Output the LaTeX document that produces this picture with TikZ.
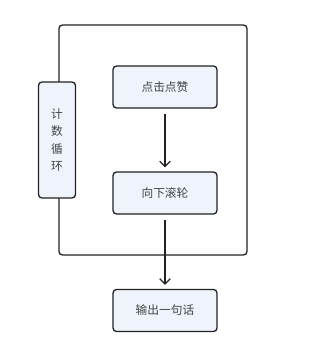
\documentclass[tikz,border=0pt]{standalone}
\usepackage{fontspec}
\setmainfont{Noto Sans CJK SC}
\usepackage{tikz}
\usetikzlibrary{arrows.meta, positioning}

\definecolor{boxfill}{HTML}{EEF3FC}
\definecolor{boxline}{HTML}{222222}
\definecolor{textgray}{HTML}{444444}

\tikzset{
	stepbox/.style={draw=boxline, fill=boxfill, rounded corners=3pt, line width=1.1pt,
		minimum width=104*0.3mm, minimum height=42*0.3mm, inner sep=0pt,
		text=textgray, font=\fontsize{10pt}{12pt}\selectfont},
	loopbox/.style={stepbox, minimum width=37*0.3mm, minimum height=116*0.3mm, align=center,
		font=\fontsize{10pt}{15pt}\selectfont},
	flow/.style={draw=boxline, line width=1.1pt, -{Straight Barb[length=4.5pt,width=9pt]}},
	loopline/.style={draw=boxline, line width=1.1pt, rounded corners=3pt}
}

\begin{document}
\begin{tikzpicture}[x=0.03cm, y=-0.03cm]
	\useasboundingbox (0,0) rectangle (319,350);
	
	% Schleife
	\coordinate (lt) at (59,82);
	\coordinate (lb) at (59,198);
	\draw[loopline] (lt) -- (59,25) -- (247,25) -- (247,255) -- (59,255) -- (lb);
	
	% Knoten
	\node[loopbox] (cnt) at (57,140) {计\\数\\循\\环};
	\node[stepbox] (like) at (165,87) {点击点赞};
	\node[stepbox] (scroll) at (165,193) {向下滚轮};
	\node[stepbox] (out) at (165,310.5) {输出一句话};
	
	% Pfeile
	\draw[flow] ([yshift=-5*0.3mm]like.south) -- ([yshift=4*0.3mm]scroll.north);
	\draw[flow] ([yshift=-5*0.3mm]scroll.south) -- ([yshift=4*0.3mm]out.north);
\end{tikzpicture}
\end{document}
